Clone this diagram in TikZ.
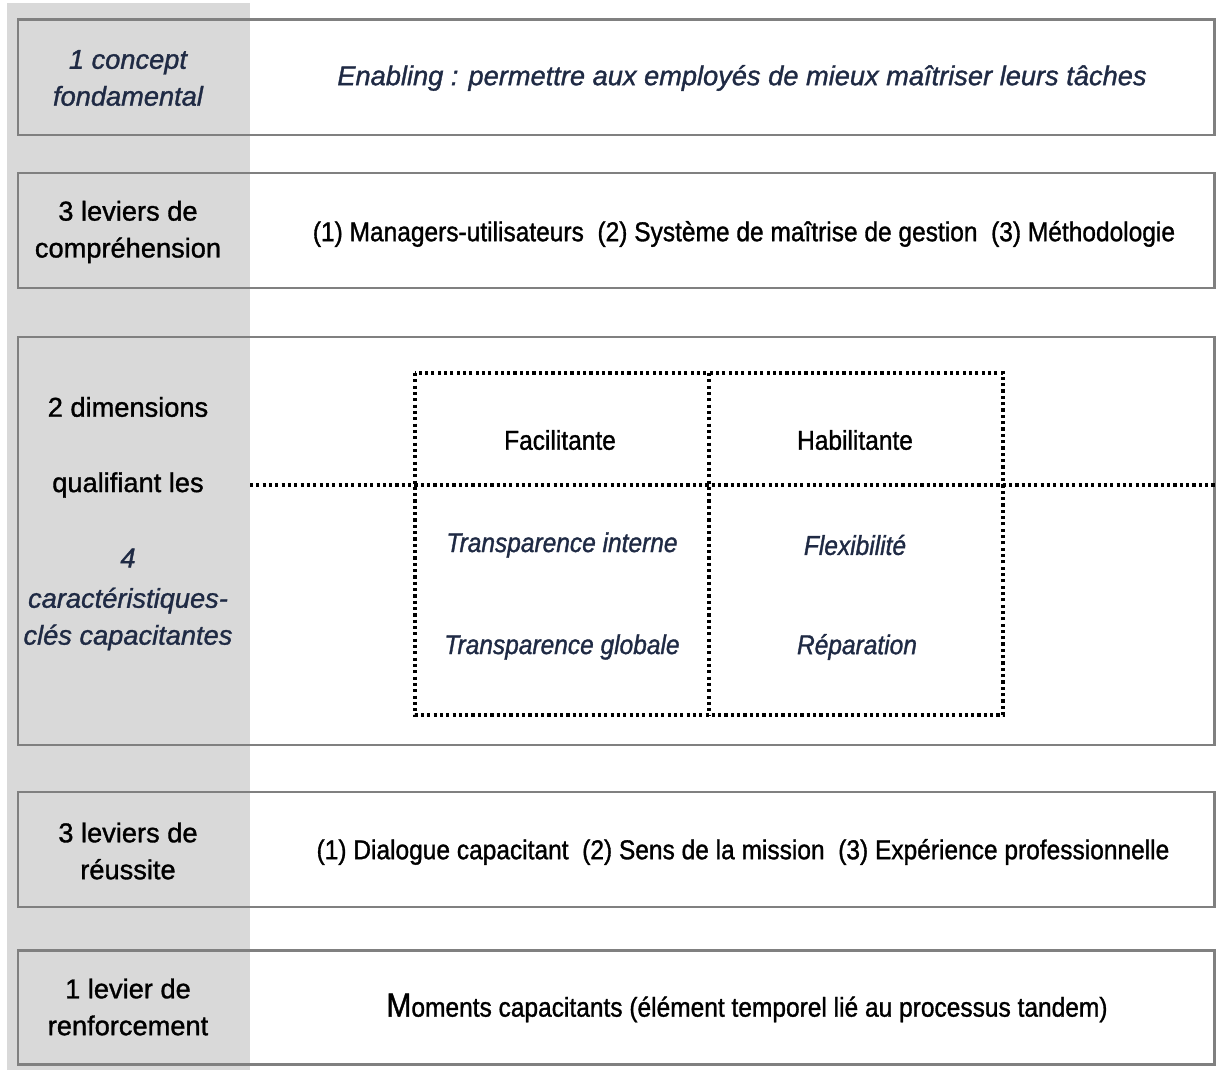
\documentclass[tikz,border=0pt]{standalone}
\usepackage{fontspec}
\setmainfont{Liberation Sans}[RawFeature={embolden=1.2}]
\newfontfamily\narrowsans{Liberation Sans}[FakeStretch=0.9, RawFeature={embolden=1.2}]

\definecolor{bandgray}{HTML}{D9D9D9}
\definecolor{edgegray}{HTML}{808080}
\definecolor{navy}{HTML}{1F2A44}

\tikzset{
  rowbox/.style={draw=edgegray, line width=1.7pt},
  gridline/.style={dash pattern=on 1.8pt off 1.8pt, line width=2pt},
  head/.style={align=center, font=\fontsize{15.5}{21}\selectfont},
  headit/.style={head, font=\fontsize{15.5}{21}\selectfont\itshape, text=navy},
  body/.style={align=center, font=\narrowsans\fontsize{15.5}{21}\selectfont},
  bodyit/.style={body, font=\narrowsans\fontsize{15.5}{21}\selectfont\itshape, text=navy},
}

\begin{document}
\begin{tikzpicture}[x=0.02cm, y=-0.02cm]
  \useasboundingbox (0,0) rectangle (1216,1070);

  % grey column behind the row titles
  \fill[bandgray] (7,3) rectangle (250,1070);

  % rows
  \draw[rowbox] (18,20) rectangle (1214,135);
  \draw[rowbox] (18,173) rectangle (1214,288);
  \draw[rowbox] (18,337) rectangle (1214,745);
  \draw[rowbox] (18,792) rectangle (1214,907);
  \draw[rowbox] (18,950) rectangle (1214,1064);

  % row 1
  \node[headit] (concept) at (128,78) {1 concept\\fondamental};
  \node[headit] (enabling) at (742,78) {Enabling : permettre aux employés de mieux maîtriser leurs tâches};

  % row 2
  \node[head] (compr) at (128,232) {3 leviers de\\compréhension};
  \node[body] (leviers) at (744,234) {(1) Managers-utilisateurs\ \ (2) Système de maîtrise de gestion\ \ (3) Méthodologie};

  % row 3
  \node[head] (dims) at (128,407) {2 dimensions};
  \node[head] (qualif) at (128,485) {qualifiant les};
  \node[headit] (quatre) at (128,558) {4};
  \node[headit] (caract) at (128,619) {caractéristiques-\\clés capacitantes};

  \draw[gridline] (415,373) rectangle (1003,715);
  \draw[gridline] (709,373) -- (709,715);
  \draw[gridline] (250,485) -- (1216,485);

  \node[body] (facil) at (560,440) {Facilitante};
  \node[body] (habil) at (855,440) {Habilitante};
  \node[bodyit] (tinterne) at (562,545) {Transparence interne};
  \node[bodyit] (flex) at (855,545) {Flexibilité};
  \node[bodyit] (tglobale) at (562,647) {Transparence globale};
  \node[bodyit] (repar) at (857,647) {Réparation};

  % row 4
  \node[head] (reussite) at (128,851) {3 leviers de\\réussite};
  \node[body] (dialogue) at (743,852) {(1) Dialogue capacitant\ \ (2) Sens de la mission\ \ (3) Expérience professionnelle};

  % row 5
  \node[head] (renfo) at (128,1007) {1 levier de\\renforcement};
  \node[body] (moments) at (747,1008) {{\fontsize{19}{21}\selectfont M}oments capacitants (élément temporel lié au processus tandem)};
\end{tikzpicture}
\end{document}
